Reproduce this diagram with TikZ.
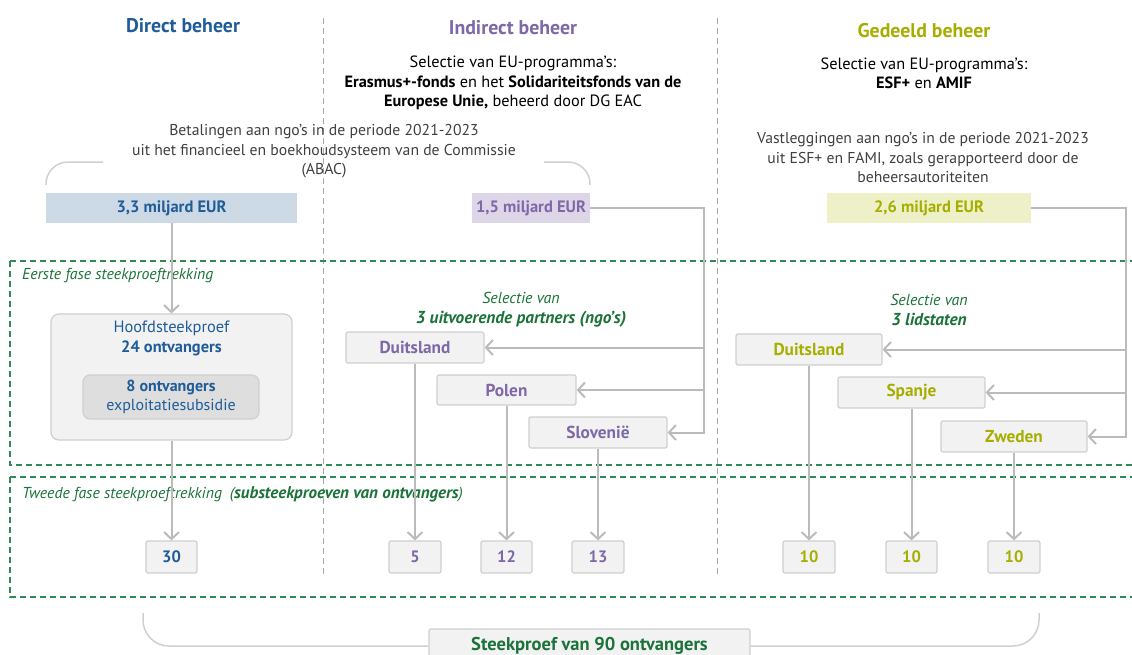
\documentclass[tikz,border=0pt]{standalone}
\usepackage{fontspec}
\setmainfont{PT Sans}
\usetikzlibrary{arrows.meta}
\definecolor{dblue}{HTML}{1F5C99}
\definecolor{purp}{HTML}{7E68A8}
\definecolor{olive}{HTML}{A6AE00}
\definecolor{dgreen}{HTML}{1B7339}
\definecolor{dashgreen}{HTML}{2E8B57}
\definecolor{dgray}{HTML}{404040}
\definecolor{lgray}{HTML}{BBBBBB}
\definecolor{bgray}{HTML}{D0D0D0}
\definecolor{sepgray}{HTML}{A8A8A8}
\definecolor{boxfill}{HTML}{F2F2F2}
\definecolor{boxline}{HTML}{CFCFCF}
\definecolor{innerfill}{HTML}{DEDEDE}
\definecolor{bluefill}{HTML}{CDD9E5}
\definecolor{purpfill}{HTML}{DCD6E8}
\definecolor{olivefill}{HTML}{EEF0C8}
\begin{document}
\begin{tikzpicture}[x=1pt,y=-1pt,
  txt/.style={font=\fontsize{15.7}{19.5}\selectfont, text=dgray, align=center, inner sep=0pt},
  btxt/.style={font=\fontsize{16.3}{19.5}\selectfont, text=black, align=center, inner sep=0pt},
  ttl/.style={font=\bfseries\fontsize{19.8}{22}\selectfont, inner sep=0pt},
  amt/.style={minimum height=30pt, inner sep=0pt, font=\bfseries\fontsize{16.5}{18}\selectfont},
  cbox/.style={draw=boxline, fill=boxfill, rounded corners=2pt, line width=1.2pt, inner sep=0pt, font=\bfseries\fontsize{16.5}{18}\selectfont},
  ctry/.style={cbox, font=\bfseries\fontsize{17.3}{19}\selectfont},
  conn/.style={draw=lgray, line width=2pt},
  arr/.style={conn, -{Straight Barb[length=7pt,width=15pt]}},
  phase/.style={draw=dashgreen, line width=1.3pt, dash pattern=on 6pt off 4pt},
  sep/.style={draw=sepgray, line width=1pt, dash pattern=on 6pt off 4pt},
  brace/.style={draw=bgray, line width=1.5pt},
  sel/.style={font=\itshape\fontsize{15.9}{20}\selectfont, text=dgreen, align=center, inner sep=0pt},
  plab/.style={font=\itshape\fontsize{15.8}{17}\selectfont, text=dgreen, anchor=west, inner sep=0pt}
]
\useasboundingbox (0,0) rectangle (1132,654);
\clip (0,0) rectangle (1132,654);
\fill[white] (0,0) rectangle (1132,654);

% separators
\coordinate (s1t) at (323,18); \coordinate (s1b) at (323,577);
\coordinate (s2t) at (717,18); \coordinate (s2b) at (717,577);
\draw[sep] (s1t) -- (s1b);
\draw[sep] (s2t) -- (s2b);

% phase frames
\draw[phase] (10,261) -- (1140,261) (10,261) -- (10,465) -- (1140,465);
\draw[phase] (10,477) -- (1140,477) (10,477) -- (10,597) -- (1140,597);
\node[plab] (p1) at (22,275.5) {Eerste fase steekproeftrekking};
\node[plab] (p2) at (22,494) {Tweede fase steekproeftrekking\enspace(\textbf{\fontsize{17}{17}\selectfont substeekproeven van ontvangers})};

% titles
\node[ttl, text=dblue] (t1) at (183,25.5) {Direct beheer};
\node[ttl, text=purp] (t2) at (513,27.5) {Indirect beheer};
\node[ttl, text=olive] (t3) at (924,30.5) {Gedeeld beheer};

% descriptive texts
\node[btxt] (isel) at (513,83) {Selectie van EU-programma’s:\\ \textbf{Erasmus+-fonds} en het \textbf{Solidariteitsfonds van de}\\ \textbf{Europese Unie,} beheerd door DG EAC};
\node[btxt] (gsel) at (924,73.5) {Selectie van EU-programma’s:\\ \textbf{ESF+} en \textbf{AMIF}};
\node[txt] (dtxt) at (324,151.5) {Betalingen aan ngo’s in de periode 2021-2023\\ uit het financieel en boekhoudsysteem van de Commissie\\ (ABAC)};
\node[txt] (gtxt) at (923,157.5) {Vastleggingen aan ngo’s in de periode 2021-2023\\ uit ESF+ en FAMI, zoals gerapporteerd door de\\ beheersautoriteiten};

% top bracket
\coordinate (bl1) at (46,185); \coordinate (bl2) at (103,162);
\coordinate (br1) at (544,162); \coordinate (br2) at (590,185);
\draw[brace, rounded corners=22pt] (bl1) |- (bl2);
\draw[brace, rounded corners=22pt] (br1) -| (br2);

% amounts
\node[amt, fill=bluefill, text=dblue, minimum width=251pt] (d33) at (171.5,208) {3,3 miljard EUR};
\node[amt, fill=purpfill, text=purp, minimum width=118pt] (i15) at (531,208) {1,5 miljard EUR};
\node[amt, fill=olivefill, text=olive, minimum width=204pt] (g26) at (929,208) {2,6 miljard EUR};

% direct management
\node[draw=boxline, fill=boxfill, rounded corners=8pt, line width=1.2pt, minimum width=241pt, minimum height=126pt, inner sep=0pt] (hoof) at (171.5,377) {};
\node[txt, text=dblue, font=\fontsize{16.4}{20}\selectfont] (hooft) at (171.5,338) {Hoofdsteekproef\\ \textbf{24 ontvangers}};
\node[draw=bgray, fill=innerfill, rounded corners=7pt, line width=1.2pt, minimum width=176pt, minimum height=44pt, inner sep=0pt, align=center, text=dblue, font=\fontsize{16}{19}\selectfont] (inner) at (171,397) {\textbf{8 ontvangers}\\ exploitatiesubsidie};
\node[cbox, text=dblue, minimum width=51pt, minimum height=32pt] (n30) at (171.5,557) {30};
\draw[arr] (d33) -- (hoof);
\draw[arr] (hoof) -- (n30);

% indirect management
\node[sel] (isl) at (521,310) {Selectie van\\ \textbf{\fontsize{17.3}{20}\selectfont 3 uitvoerende partners (ngo’s)}};
\node[ctry, text=purp, minimum width=138pt, minimum height=31pt] (iduit) at (415,347.5) {Duitsland};
\node[ctry, text=purp, minimum width=139pt, minimum height=30pt] (ipol) at (506.5,390) {Polen};
\node[ctry, text=purp, minimum width=138pt, minimum height=31pt] (islo) at (598,432.5) {Slovenië};
\node[cbox, text=purp, minimum width=52pt, minimum height=32pt] (n5) at (415,557) {5};
\node[cbox, text=purp, minimum width=51pt, minimum height=32pt] (n12) at (506.5,557) {12};
\node[cbox, text=purp, minimum width=52pt, minimum height=32pt] (n13) at (598,557) {13};
\coordinate (ib) at (704,432.5);
\draw[arr] (i15.east) -| (ib) -- (islo.east);
\draw[arr] (ib |- iduit.east) -- (iduit.east);
\draw[arr] (ib |- ipol.east) -- (ipol.east);
\draw[arr] (iduit) -- (n5);
\draw[arr] (ipol) -- (n12);
\draw[arr] (islo) -- (n13);

% shared management
\node[sel] (gsl) at (929,310) {Selectie van\\ \textbf{\fontsize{17.3}{20}\selectfont 3 lidstaten}};
\node[ctry, text=olive, minimum width=146pt, minimum height=31pt] (gduit) at (809,349.5) {Duitsland};
\node[ctry, text=olive, minimum width=147pt, minimum height=31pt] (gspa) at (911.5,392.5) {Spanje};
\node[ctry, text=olive, minimum width=146pt, minimum height=31pt] (gzwe) at (1014,436.5) {Zweden};
\node[cbox, text=olive, minimum width=52pt, minimum height=32pt] (g1) at (809,557) {10};
\node[cbox, text=olive, minimum width=51pt, minimum height=32pt] (g2) at (911.5,557) {10};
\node[cbox, text=olive, minimum width=52pt, minimum height=32pt] (g3) at (1014,557) {10};
\coordinate (gb) at (1126,436.5);
\draw[arr] (g26.east) -| (gb) -- (gzwe.east);
\draw[arr] (gb |- gduit.east) -- (gduit.east);
\draw[arr] (gb |- gspa.east) -- (gspa.east);
\draw[arr] (gduit) -- (g1);
\draw[arr] (gspa) -- (g2);
\draw[arr] (gzwe) -- (g3);

% bottom total
\node[cbox, text=dgreen, minimum width=321pt, minimum height=34pt, font=\bfseries\fontsize{18.5}{20}\selectfont] (tot) at (589.5,646) {Steekproef van 90 ontvangers};
\coordinate (bb1) at (143,613); \coordinate (bb2) at (1039,613);
\draw[brace, rounded corners=26pt] (bb1) |- (tot.west);
\draw[brace, rounded corners=26pt] (tot.east) -| (bb2);
\end{tikzpicture}
\end{document}
